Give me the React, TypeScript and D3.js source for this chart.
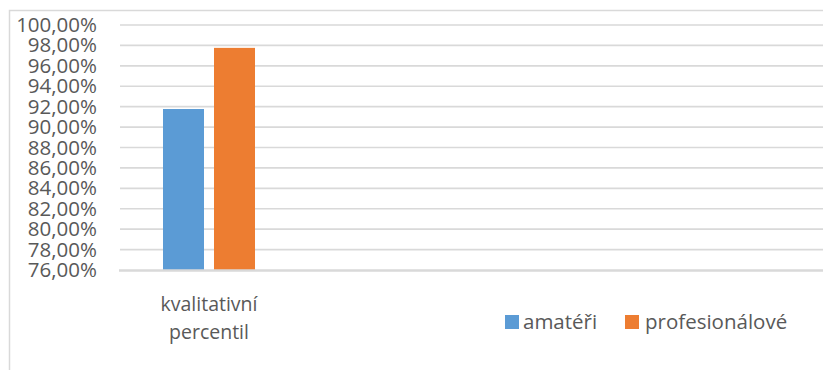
import React from "react";
import * as d3 from "d3";

const categories = ["kvalitativní percentil", "", "", ""];
const seriesNames = ["amatéři", "profesionálové"];
const amateri = [0.9177, null, null, null];
const profesionalove = [0.9776, null, null, null];
const yTicks = [0.76, 0.78, 0.8, 0.82, 0.84, 0.86, 0.88, 0.9, 0.92, 0.94, 0.96, 0.98, 1.0];

const colors = ["#5B9BD5", "#ED7D31"];
const W = 823;
const H = 370;
const FONT = "'Open Sans', 'Noto Sans', sans-serif";

export default function App() {
  const seriesValues = [amateri, profesionalove];
  const y = d3.scaleLinear().domain([0.76, 1.0]).range([270, 25]);
  const x0 = d3.scaleBand<string>().domain(categories.map((c, i) => String(i))).range([120, 832]).padding(0);
  const x1 = d3
    .scaleBand<string>()
    .domain(seriesNames)
    .range([0, x0.bandwidth()])
    .paddingInner(10 / 51)
    .paddingOuter(0.843);
  const fmt = (v: number) => d3.format(".2f")(v * 100).replace(".", ",") + "%";

  const legendX = [505, 625];
  const legendTextX = [523, 645];
  return (
    <svg
      width={W}
      height={H}
      style={{ position: "absolute", left: 0, top: 0, background: "#fff" }}
      fontFamily={FONT}
    >
      <rect x={0} y={0} width={W} height={H} fill="#fff" />
      <rect x={9.5} y={10.5} width={W + 20} height={H + 20} fill="none" stroke="#D9D9D9" strokeWidth={1.5} />
      {yTicks.map((t) =>
        t === 0.76 ? null : (
          <line key={t} x1={120} x2={W} y1={y(t)} y2={y(t)} stroke="#D9D9D9" strokeWidth={1.6} />
        )
      )}
      {categories.map((c, ci) =>
        seriesValues.map((vals, si) => {
          const v = vals[ci];
          if (v == null) return null;
          const bx = (x0(String(ci)) ?? 0) + (x1(seriesNames[si]) ?? 0);
          return (
            <rect
              key={ci + "-" + si}
              x={bx}
              y={y(v)}
              width={x1.bandwidth()}
              height={y(0.76) - y(v)}
              fill={colors[si]}
            />
          );
        })
      )}
      <line x1={119} x2={W} y1={270.5} y2={270.5} stroke="#D9D9D9" strokeWidth={2.5} />
      {yTicks.map((t) => (
        <text key={t} x={97} y={y(t) + 7} textAnchor="end" fontSize={20.5} fill="#595959">
          {fmt(t)}
        </text>
      ))}
      {categories.map((c, ci) => {
        if (!c) return null;
        const cx = (x0(String(ci)) ?? 0) + x0.bandwidth() / 2;
        const words = c.split(" ");
        return (
          <text key={ci} x={cx} textAnchor="middle" fontSize={19.5} fill="#595959">
            {words.map((w, wi) => (
              <tspan key={wi} x={cx} y={311 + wi * 28}>
                {w}
              </tspan>
            ))}
          </text>
        );
      })}
      {seriesNames.map((s, si) => (
        <g key={s}>
          <rect x={legendX[si]} y={315} width={14} height={14} fill={colors[si]} />
          <text x={legendTextX[si]} y={329} fontSize={20.5} fill="#595959">
            {s}
          </text>
        </g>
      ))}
    </svg>
  );
}
